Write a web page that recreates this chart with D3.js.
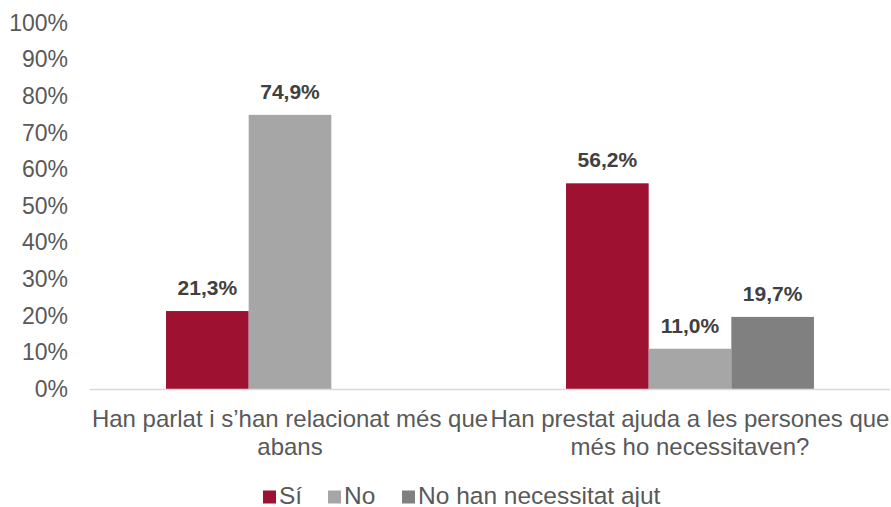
<!DOCTYPE html>
<html>
<head>
<meta charset="utf-8">
<script src="https://cdn.jsdelivr.net/npm/d3@7"></script>
<style>
  body { margin: 0; background: #fff; }
  svg { font-family: Arial, "Liberation Sans", sans-serif; }
</style>
</head>
<body>
<svg id="chart" width="891" height="507"></svg>
<script>
const categories = ["Han parlat i s’han relacionat més que abans", "Han prestat ajuda a les persones que més ho necessitaven?"];
const seriesNames = ["Sí", "No", "No han necessitat ajut"];
const seriesColors = ["#9E1131", "#A6A6A6", "#808080"];
const valuesSi = [21.3, 56.2];
const valuesNo = [74.9, 11.0];
const valuesNoNeed = [null, 19.7];
const yTicks = [0, 10, 20, 30, 40, 50, 60, 70, 80, 90, 100];

const series = [valuesSi, valuesNo, valuesNoNeed];
const margin = {top: 23, right: 1, bottom: 118, left: 90};
const width = 891, height = 507;

const svg = d3.select("#chart");

const x = d3.scaleBand()
    .domain(categories)
    .range([margin.left, width - margin.right]);

const xInner = d3.scaleBand()
    .domain(seriesNames)
    .range([0, x.bandwidth()])
    .paddingOuter(0.92);

const y = d3.scaleLinear()
    .domain([0, 100])
    .range([height - margin.bottom, margin.top]);

// y axis labels
svg.append("g")
    .selectAll("text")
    .data(yTicks)
    .join("text")
    .attr("x", 68)
    .attr("y", d => y(d))
    .attr("dy", "0.34em")
    .attr("text-anchor", "end")
    .attr("fill", "#595959")
    .style("font-size", "23px")
    .text(d => d + "%");

// bars
const groups = svg.append("g")
    .selectAll("g")
    .data(categories)
    .join("g")
    .attr("transform", d => `translate(${x(d)},0)`);

groups.each(function (cat, ci) {
    const g = d3.select(this);
    series.forEach((vals, si) => {
        const v = vals[ci];
        if (v == null) return;
        g.append("rect")
            .attr("x", xInner(seriesNames[si]))
            .attr("width", xInner.bandwidth())
            .attr("y", y(v))
            .attr("height", y(0) - y(v))
            .attr("fill", seriesColors[si]);
        g.append("text")
            .attr("x", xInner(seriesNames[si]) + xInner.bandwidth() / 2)
            .attr("y", y(v) - 16)
            .attr("text-anchor", "middle")
            .attr("fill", "#404040")
            .style("font-size", "21px")
            .style("font-weight", "bold")
            .text(v.toFixed(1).replace(".", ",") + "%");
    });
});

// baseline
svg.append("line")
    .attr("x1", margin.left)
    .attr("x2", width - margin.right)
    .attr("y1", y(0) + 0.5)
    .attr("y2", y(0) + 0.5)
    .attr("stroke", "#D9D9D9")
    .attr("stroke-width", 1.5);

// category labels with wrapping
function wrap(textSel, maxWidth) {
    textSel.each(function () {
        const text = d3.select(this);
        const words = text.text().split(/\s+/);
        const cx = text.attr("x");
        text.text(null);
        let line = [];
        let tspan = text.append("tspan").attr("x", cx).attr("dy", 0);
        words.forEach(w => {
            line.push(w);
            tspan.text(line.join(" "));
            if (tspan.node().getComputedTextLength() > maxWidth && line.length > 1) {
                line.pop();
                tspan.text(line.join(" "));
                line = [w];
                tspan = text.append("tspan").attr("x", cx).attr("dy", "28px").text(w);
            }
        });
    });
}

svg.append("g")
    .selectAll("text")
    .data(categories)
    .join("text")
    .attr("x", d => x(d) + x.bandwidth() / 2)
    .attr("y", 427)
    .attr("text-anchor", "middle")
    .attr("fill", "#595959")
    .style("font-size", "24px")
    .text(d => d)
    .call(wrap, 404);

// legend
const legendX = [263, 328, 402];
const legend = svg.append("g")
    .selectAll("g")
    .data(seriesNames)
    .join("g")
    .attr("transform", (d, i) => `translate(${legendX[i]},497)`);

legend.append("rect")
    .attr("x", 0)
    .attr("y", -6.5)
    .attr("width", 13)
    .attr("height", 13)
    .attr("fill", (d, i) => seriesColors[i]);

legend.append("text")
    .attr("x", 16)
    .attr("y", 7)
    .attr("fill", "#595959")
    .style("font-size", "24.5px")
    .text(d => d);
</script>
</body>
</html>
